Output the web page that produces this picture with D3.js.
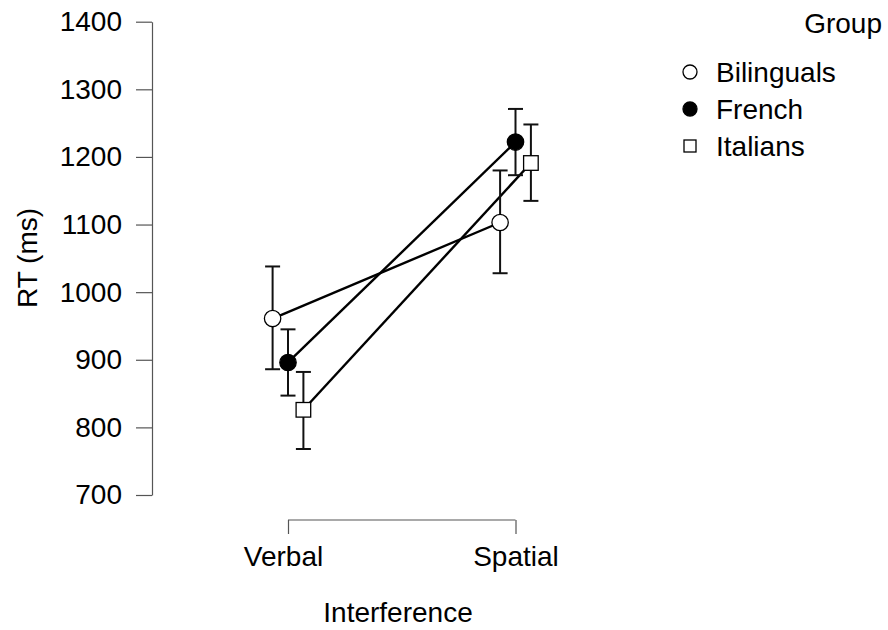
<!DOCTYPE html>
<html><head><meta charset="utf-8">
<script src="https://cdn.jsdelivr.net/npm/d3@7"></script>
<style>body{margin:0;background:#fff;} text{font-family:"Liberation Sans",Arial,sans-serif;}</style>
</head><body>
<svg id="c" width="888" height="630"></svg>
<script>
const categories = ["Verbal", "Spatial"];
const groups = ["Bilinguals", "French", "Italians"];
const means = {
  Bilinguals: [961, 1103],
  French: [896, 1222],
  Italians: [826, 1191]
};
const lower = {
  Bilinguals: [886, 1028],
  French: [847, 1173],
  Italians: [768, 1135]
};
const upper = {
  Bilinguals: [1038, 1180],
  French: [945, 1271],
  Italians: [882, 1248]
};
const yTicks = [700, 800, 900, 1000, 1100, 1200, 1300, 1400];

const svg = d3.select("#c");
const y = d3.scaleLinear().domain([700, 1400]).range([495, 21.7]);
const x = d3.scalePoint().domain(categories).range([288, 515.5]);
const dodge = d3.scalePoint().domain(groups).range([-15.4, 15.4]);
const fs = 28;
const ff = "Liberation Sans, Arial, sans-serif";

// y axis
const yAxis = svg.append("g").attr("transform", "translate(152,0)")
  .call(d3.axisLeft(y).tickValues(yTicks).tickFormat(d3.format("d")).tickSize(16).tickPadding(14).tickSizeOuter(0));
yAxis.select(".domain").attr("stroke", "#555").attr("stroke-width", 1.2);
yAxis.selectAll(".tick line").attr("stroke", "#555").attr("stroke-width", 1.2);
yAxis.selectAll(".tick text").attr("font-size", fs).attr("fill", "#000").attr("font-family", ff);

// x axis bracket
const xAxis = svg.append("g").attr("transform", "translate(0,520)")
  .call(d3.axisBottom(x).tickSize(14).tickPadding(12).tickSizeOuter(0));
xAxis.select(".domain").attr("stroke", "#555").attr("stroke-width", 1.2)
  .attr("d", `M${x("Verbal")},0H${x("Spatial")}`);
xAxis.selectAll(".tick line").attr("stroke", "#555").attr("stroke-width", 1.2);
xAxis.selectAll(".tick text").attr("font-size", fs).attr("fill", "#000").attr("font-family", ff);
xAxis.selectAll(".tick").filter(d => d === "Verbal").select("text").attr("dx", -5);

// axis titles
svg.append("text").attr("x", 398).attr("y", 622).attr("text-anchor", "middle")
  .attr("font-size", fs).text("Interference");
svg.append("text").attr("transform", "translate(37,258) rotate(-90)")
  .attr("text-anchor", "middle").attr("font-size", fs).text("RT (ms)");

// lines
groups.forEach(g => {
  const pts = categories.map((c, i) => [x(c) + dodge(g), y(means[g][i])]);
  svg.append("path").attr("d", d3.line()(pts)).attr("fill", "none")
    .attr("stroke", "#000").attr("stroke-width", 2.4);
});

// error bars
groups.forEach(g => {
  categories.forEach((c, i) => {
    const cx = x(c) + dodge(g);
    const eg = svg.append("g").attr("stroke", "#111").attr("stroke-width", 2);
    eg.append("line").attr("x1", cx).attr("x2", cx).attr("y1", y(lower[g][i])).attr("y2", y(upper[g][i]));
    eg.append("line").attr("x1", cx - 7.5).attr("x2", cx + 7.5).attr("y1", y(lower[g][i])).attr("y2", y(lower[g][i]));
    eg.append("line").attr("x1", cx - 7.5).attr("x2", cx + 7.5).attr("y1", y(upper[g][i])).attr("y2", y(upper[g][i]));
  });
});

// points
function drawSym(sel, g, cx, cy, r) {
  if (g === "Italians") {
    sel.append("rect").attr("x", cx - r).attr("y", cy - r).attr("width", 2 * r).attr("height", 2 * r)
      .attr("fill", "#fff").attr("stroke", "#000").attr("stroke-width", 1.3);
  } else {
    sel.append("circle").attr("cx", cx).attr("cy", cy).attr("r", r)
      .attr("fill", g === "French" ? "#000" : "#fff").attr("stroke", "#000").attr("stroke-width", 1.3);
  }
}
groups.forEach(g => {
  categories.forEach((c, i) => {
    const r = g === "Italians" ? 7.3 : 8.2;
    drawSym(svg, g, x(c) + dodge(g), y(means[g][i]), r);
  });
});

// legend
svg.append("text").attr("x", 882).attr("y", 33).attr("text-anchor", "end")
  .attr("font-size", fs).text("Group");
groups.forEach((g, i) => {
  const ly = 72 + i * 37;
  drawSym(svg, g, 690, ly, g === "Italians" ? 6 : 7);
  svg.append("text").attr("x", 716).attr("y", ly + 10).attr("font-size", fs).text(g);
});
</script>
</body></html>
